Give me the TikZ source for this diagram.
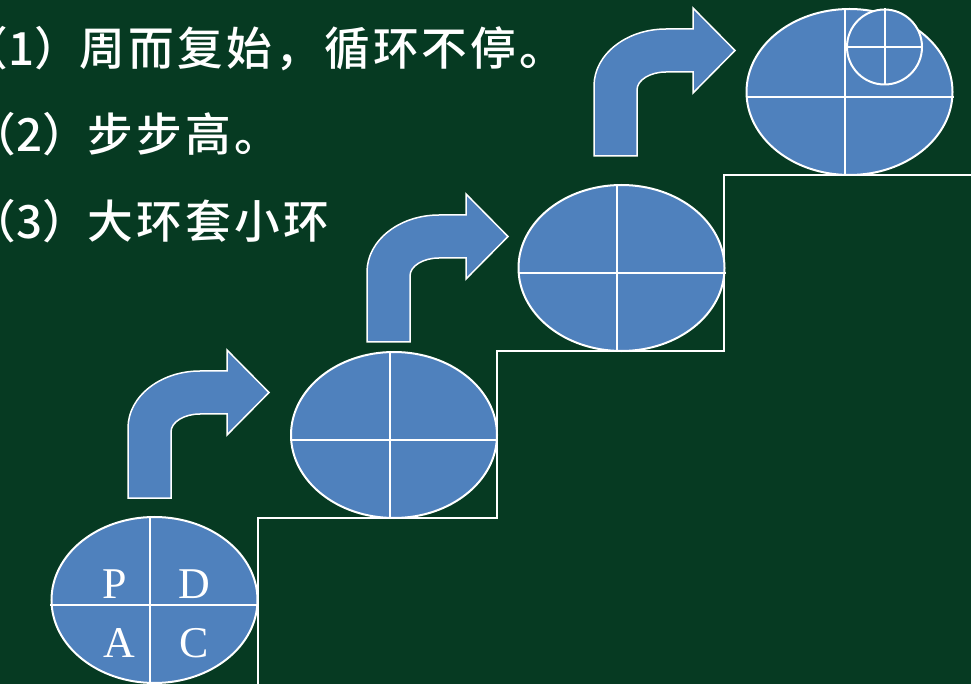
\documentclass[tikz,border=0pt]{standalone}
\usepackage{fontspec}
\setmainfont{Liberation Serif}
\newfontfamily\cjk{Noto Sans CJK SC}[UprightFont={* Medium}]
\usetikzlibrary{shapes.geometric,calc}
\definecolor{tableau}{RGB}{6,58,34}
\definecolor{bleu}{RGB}{79,129,189}

\begin{document}
\begin{tikzpicture}[x=0.2mm,y=-0.2mm,
  cycle/.style={ellipse,draw=white,line width=0.4mm,fill=bleu,inner sep=0pt,
    minimum width=41.2mm,minimum height=33.2mm},
  petit/.style={circle,draw=white,line width=0.4mm,fill=bleu,inner sep=0pt,minimum size=15mm},
  croix/.style={draw=white,line width=0.4mm},
  fleche/.style={draw=white,line width=0.3mm,fill=bleu},
  marche/.style={draw=white,line width=0.4mm},
  lettre/.style={text=white,font=\fontsize{25}{30}\selectfont,inner sep=0pt,anchor=base},
  texte/.style={text=white,font=\cjk\fontsize{26}{30}\selectfont,inner sep=0pt,anchor=base west}]
\useasboundingbox (0,0) rectangle (971,684);
% Fond
\fill[tableau] (0,0) rectangle (971,684);

% Texte
\newcommand\espace{\addfontfeature{LetterSpace=7}}
\node[texte] (l1) at (-38,66) {（1）{\espace 周而复始，循环不停。}};
\node[texte] (l2) at (-30,152) {（2）{\espace 步步高。}};
\node[texte] (l3) at (-30,239) {（3）{\espace 大环套小环}};

% Escalier
\draw[marche] (258,690) -- (258,518) -- (497,518) -- (497,351) -- (724,351) -- (724,175) -- (976,175);

% Fleches
\foreach \dx/\dy in {0/0,239/-156,466/-342}
  \filldraw[fleche,shift={(\dx,\dy)}] (128,498) -- (128,428)
    arc[start angle=180,end angle=270,x radius=72,y radius=57] -- (227,371) -- (227,350)
    -- (269,392.5) -- (227,435) -- (227,414) -- (200,414)
    arc[start angle=270,end angle=180,x radius=29,y radius=18] -- (171,498) -- cycle;

% Cycles PDCA
\node[cycle] (c1) at (154.5,600) {};
\node[cycle] (c2) at (394,435) {};
\node[cycle] (c3) at (621.5,268) {};
\node[cycle] (c4) at (849.5,92) {};
\foreach \c in {c1,c2,c3,c4} {
  \draw[croix] ($(\c.north)+(-4.5,0)$) -- ($(\c.south)+(-4.5,0)$);
  \draw[croix] ($(\c.west)+(0,5)$) -- ($(\c.east)+(0,5)$);
}
\node[petit] (c5) at (884.5,47) {};
\draw[croix] (c5.north) -- (c5.south);
\draw[croix] (c5.west) -- (c5.east);

% Lettres
\node[lettre] (lp) at (115,598) {P};
\node[lettre] (ld) at (194,598) {D};
\node[lettre] (la) at (119,657) {A};
\node[lettre] (lc) at (194,657) {C};

\end{tikzpicture}
\end{document}
